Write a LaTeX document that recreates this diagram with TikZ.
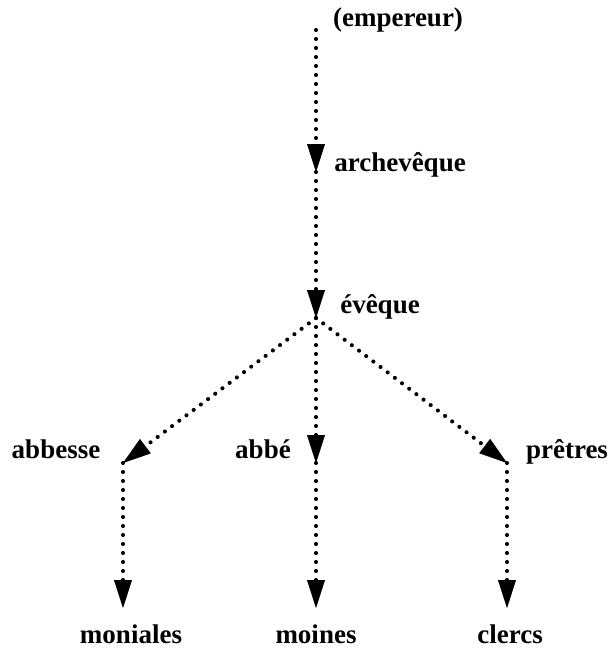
\documentclass[tikz,border=0pt]{standalone}
\usepackage{fontspec}
\setmainfont{Liberation Serif}
\usetikzlibrary{arrows.meta}
\begin{document}
\begin{tikzpicture}[x=1pt,y=-1pt,
  lbl/.style={font=\bfseries\fontsize{27}{30}\selectfont, inner sep=0pt, anchor=base},
  head/.style={-{Triangle[width=18pt,length=28pt,line width=0pt]}},
  link/.style={line width=4pt, line cap=round, dash pattern=on 0pt off 9pt, head},
  shade/.style={link, draw=black, opacity=0.1, shift={(#1,#1)}}]
\useasboundingbox (0,0) rectangle (608,653);
% branch points
\coordinate (top) at (316,30);
\coordinate (arch) at (316,172);
\coordinate (eve) at (316,318);
\coordinate (abs) at (123,463);
\coordinate (abe) at (316,463);
\coordinate (pre) at (507,463);
\coordinate (mon) at (123,608);
\coordinate (moi) at (316,608);
\coordinate (cle) at (507,608);
% labels
\node[lbl] (lemp) at (398,27) {(empereur)};
\node[lbl] (larch) at (400,171) {archevêque};
\node[lbl] (leve) at (380,313) {évêque};
\node[lbl] (labs) at (56,458) {abbesse};
\node[lbl] (labe) at (263,458) {abbé};
\node[lbl] (lpre) at (567,458) {prêtres};
\node[lbl] (lmon) at (131,643) {moniales};
\node[lbl] (lmoi) at (316,643) {moines};
\node[lbl] (lcle) at (510,643) {clercs};
% soft drop shadow under the links
\foreach \s in {1.5,2.5,3.5,4.5} {
  \draw[shade=\s] (top) -- (arch);
  \draw[shade=\s] (arch) -- (eve);
  \draw[shade=\s] (eve) -- (abs);
  \draw[shade=\s] (eve) -- (abe);
  \draw[shade=\s] (eve) -- (pre);
  \draw[shade=\s] (abs) -- (mon);
  \draw[shade=\s] (abe) -- (moi);
  \draw[shade=\s] (pre) -- (cle);
}
% hierarchy links
\draw[link] (top) -- (arch);
\draw[link] (arch) -- (eve);
\draw[link] (eve) -- (abs);
\draw[link] (eve) -- (abe);
\draw[link] (eve) -- (pre);
\draw[link] (abs) -- (mon);
\draw[link] (abe) -- (moi);
\draw[link] (pre) -- (cle);
\end{tikzpicture}
\end{document}
